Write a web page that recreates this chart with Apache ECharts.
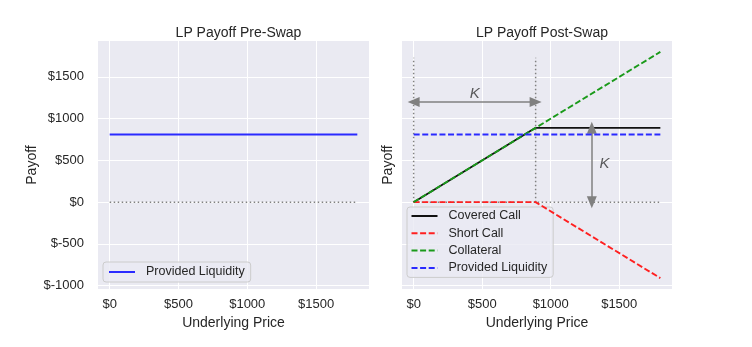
<!DOCTYPE html>
<html>
<head>
<meta charset="utf-8">
<script src="https://cdn.jsdelivr.net/npm/echarts@6/dist/echarts.min.js"></script>
<style>html,body{margin:0;padding:0;background:#fff}#c{width:752px;height:347px}</style>
</head>
<body>
<div id="c"></div>
<script>
// ---- data ----
const strikeK = 890;
const prices = [0, 890, 1800];
const providedLiquidity = [810, 810, 810];
const coveredCall = [0, 890, 890];
const shortCall = [0, 0, -910];
const collateral = [0, 890, 1800];
const zeroLine = [0, 0, 0];
const verticalGuideTop = 1730;
const arrowHorizontal = [[0, 1200], [890, 1200]];
const arrowVertical = [[1300, 890], [1300, 0]];
const kLabelPoints = [[445, 1300], [1392, 463]];
const xTicks = [0, 500, 1000, 1500];
const yTicks = [-1000, -500, 0, 500, 1000, 1500];
const titles = ['LP Payoff Pre-Swap', 'LP Payoff Post-Swap'];
const xRange = [-85, 1885];
const yRange = [-1040, 1930];

const pts = (xs, ys) => xs.map((x, i) => [x, ys[i]]);
const font = 'Liberation Sans, Arial, sans-serif';
const txt = '#262626';
const grey = '#808080';
const dash = [6, 2.6];
const dot = [1.5, 2.5];

function xAxis(gi) {
  return {
    type: 'value', gridIndex: gi, min: xRange[0], max: xRange[1],
    name: 'Underlying Price', nameLocation: 'middle', nameGap: 26,
    nameTextStyle: {color: txt, fontSize: 14, fontFamily: font},
    axisLine: {show: false},
    axisTick: {show: false, customValues: xTicks},
    axisLabel: {customValues: xTicks, formatter: v => '$' + v, color: txt, fontSize: 13, fontFamily: font, margin: 9},
    splitLine: {show: true, lineStyle: {color: '#ffffff', width: 1}}
  };
}
function yAxis(gi, showLabels, gap) {
  return {
    type: 'value', gridIndex: gi, min: yRange[0], max: yRange[1],
    name: 'Payoff', nameLocation: 'middle', nameGap: gap,
    nameTextStyle: {color: txt, fontSize: 14, fontFamily: font},
    axisLine: {show: false},
    axisTick: {show: false, customValues: yTicks},
    axisLabel: {show: showLabels, customValues: yTicks, formatter: v => '$' + v, color: txt, fontSize: 13, fontFamily: font, margin: 14},
    splitLine: {show: true, lineStyle: {color: '#ffffff', width: 1}}
  };
}
function lineSeries(name, xi, data, color, width, type, z) {
  return {
    name: name, type: 'line', xAxisIndex: xi, yAxisIndex: xi, data: data,
    symbol: 'none', silent: true, z: z || 3,
    lineStyle: {color: color, width: width, type: type}, itemStyle: {color: color}
  };
}
function arrowSeries(xi, seg) {
  return {
    type: 'line', xAxisIndex: xi, yAxisIndex: xi, data: [], symbol: 'none', silent: true,
    markLine: {
      silent: true, animation: false, symbol: ['triangle', 'triangle'], symbolSize: [10, 12],
      label: {show: false},
      lineStyle: {color: grey, width: 1.5, type: 'solid'},
      data: [[{coord: seg[0]}, {coord: seg[1]}]]
    }
  };
}

const legendBase = {
  orient: 'vertical', itemWidth: 26, itemHeight: 14, itemGap: 4.3,
  backgroundColor: 'rgba(234,234,242,0.8)', borderColor: '#cccccc', borderWidth: 1, borderRadius: 3,
  itemStyle: {opacity: 0},
  textStyle: {color: txt, fontSize: 12.5, fontFamily: font, padding: [0, 0, 0, 6]},
  formatter: n => n.replace(' (post)', '')
};

const option = {
  animation: false,
  backgroundColor: '#ffffff',
  title: [
    {text: titles[0], left: 233.5, top: 21, textAlign: 'center', textStyle: {color: txt, fontSize: 14, fontWeight: 'normal', fontFamily: font}},
    {text: titles[1], left: 537, top: 21, textAlign: 'center', textStyle: {color: txt, fontSize: 14, fontWeight: 'normal', fontFamily: font}}
  ],
  grid: [
    {left: 98, top: 41, width: 271, height: 248, show: true, backgroundColor: '#eaeaf2', borderWidth: 0},
    {left: 402, top: 41, width: 270, height: 248, show: true, backgroundColor: '#eaeaf2', borderWidth: 0}
  ],
  xAxis: [xAxis(0), xAxis(1)],
  yAxis: [yAxis(0, true, 57), yAxis(1, false, 7)],
  legend: [
    Object.assign({}, legendBase, {left: 103, top: 262, padding: [3.5, 6, 3.5, 5], data: ['Provided Liquidity']}),
    Object.assign({}, legendBase, {left: 407, top: 207, padding: [2.5, 6, 3, 3.5], data: ['Covered Call', 'Short Call', 'Collateral', 'Provided Liquidity (post)']})
  ],
  series: [
    // left plot
    lineSeries('zero0', 0, pts(prices, zeroLine), grey, 1.5, dot, 2),
    lineSeries('Provided Liquidity', 0, pts(prices, providedLiquidity), '#2a2aff', 2.2, 'solid', 3),
    // right plot guides
    lineSeries('zero1', 1, pts(prices, zeroLine), grey, 1.5, dot, 2),
    lineSeries('v0', 1, [[prices[0], 0], [prices[0], verticalGuideTop]], grey, 1.5, dot, 2),
    lineSeries('vK', 1, [[strikeK, 0], [strikeK, verticalGuideTop]], grey, 1.5, dot, 2),
    arrowSeries(1, arrowHorizontal),
    arrowSeries(1, arrowVertical),
    {
      type: 'scatter', xAxisIndex: 1, yAxisIndex: 1, data: kLabelPoints, symbolSize: 1, silent: true,
      itemStyle: {color: 'rgba(0,0,0,0)'},
      label: {show: true, position: 'inside', formatter: 'K', color: '#333333', fontSize: 15, fontStyle: 'italic', fontFamily: font}
    },
    // right plot payoffs
    lineSeries('Covered Call', 1, pts(prices, coveredCall), '#111111', 1.8, 'solid', 3),
    lineSeries('Short Call', 1, pts(prices, shortCall), '#ff2020', 1.9, dash, 4),
    lineSeries('Collateral', 1, pts(prices, collateral), '#1a9a1a', 1.9, dash, 5),
    lineSeries('Provided Liquidity (post)', 1, pts(prices, providedLiquidity), '#2a2aff', 2, dash, 6)
  ]
};
const chart = echarts.init(document.getElementById('c'), null, {renderer: 'canvas'});
chart.setOption(option);
</script>
</body>
</html>
